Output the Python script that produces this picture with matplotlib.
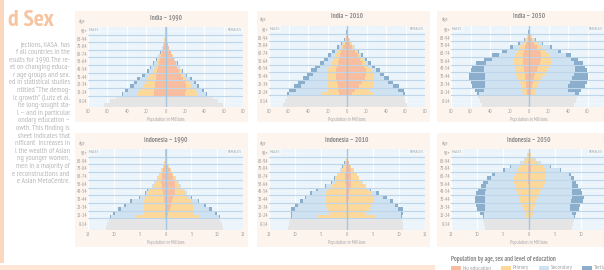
import matplotlib
matplotlib.use('Agg')
import matplotlib.pyplot as plt
from matplotlib.patches import Rectangle
import numpy as np

# ---------------- data (millions) ----------------
# 5-year age groups from 15-19 up to 100+ ; values are cumulative outer edges
# of each education layer (no-educ, +primary, +secondary, +tertiary=total)
AGE_START = [15, 20, 25, 30, 35, 40, 45, 50, 55, 60, 65, 70, 75, 80, 85, 90, 95, 100]
CHILD_START = [0, 5, 10]   # 0-14 shown as grey bars
AGE_TICKS = [7.5, 20, 30, 40, 50, 60, 70, 80, 90, 100]
AGE_LABELS = ['0-14', '15-24', '25-34', '35-44', '45-54', '55-64', '65-74', '75-84', '85-94', '95+']

# India 1990
IND90_M_CHILD = [63, 57, 51.5]
IND90_F_CHILD = [59, 54, 49]
IND90_M_NOED = [12, 12, 11, 11, 10, 9.5, 8.5, 7.5, 6.5, 5.5, 4.5, 3.3, 2.4, 1.5, 0.9, 0.4, 0.14, 0.04]
IND90_M_PRIM = [28, 26, 23, 21, 18.5, 15.5, 13, 11, 9, 7.3, 5.8, 4.2, 3, 1.85, 1.1, 0.5, 0.17, 0.045]
IND90_M_SEC = [44, 39, 33, 29.5, 26, 21.5, 17, 14.5, 11.8, 9.2, 7.3, 5.0, 3.5, 2.15, 1.22, 0.56, 0.19, 0.048]
IND90_M_TOT = [45, 42, 37, 33, 29, 24, 19, 16, 13, 10, 8, 5.5, 3.8, 2.3, 1.3, 0.6, 0.2, 0.05]
IND90_F_NOED = [20, 21, 21, 20, 18, 16, 14, 12, 10.5, 8.5, 7, 5.2, 3.6, 2.3, 1.3, 0.6, 0.2, 0.06]
IND90_F_PRIM = [33, 30, 27, 24, 21, 18, 15.5, 13, 11.3, 9.1, 7.4, 5.5, 3.8, 2.4, 1.35, 0.62, 0.21, 0.06]
IND90_F_SEC = [42, 37.5, 33, 29, 25.5, 21, 17.3, 14.6, 12.2, 9.8, 7.8, 5.7, 3.93, 2.46, 1.38, 0.64, 0.218, 0.06]
IND90_F_TOT = [43, 39.5, 35, 31, 27, 22, 18, 15, 12.5, 10, 8, 5.8, 4, 2.5, 1.4, 0.65, 0.22, 0.06]

# India 2010
IND10_M_CHILD = [66, 64, 62]
IND10_F_CHILD = [62, 59, 58]
IND10_M_NOED = [8, 9, 9, 10, 11, 11, 11, 10, 9, 8, 7, 6, 4, 2.5, 1.3, 0.6, 0.25, 0.1]
IND10_M_PRIM = [26, 20, 20, 20, 20, 20, 19, 17, 15, 13, 11, 9, 6, 3.5, 1.8, 0.8, 0.35, 0.12]
IND10_M_SEC = [60, 52, 47, 43, 39, 35, 31, 28, 24, 20, 16, 12.5, 8.5, 5, 2.5, 1.2, 0.5, 0.15]
IND10_M_TOT = [62, 59, 54, 50, 45, 41, 37, 33, 28, 24, 19, 15, 10, 6, 3, 1.5, 0.6, 0.2]
IND10_F_NOED = [5, 8, 12, 15, 18, 19, 19, 17, 15, 13, 11, 8, 5.5, 3.5, 2, 0.9, 0.35, 0.12]
IND10_F_PRIM = [27, 24, 27, 28, 28, 27, 25, 22, 19, 16, 13, 10, 7, 4.5, 2.5, 1.1, 0.45, 0.15]
IND10_F_SEC = [57, 52, 47, 42, 38, 34, 30, 26, 22, 18, 14.5, 11, 8, 5, 2.8, 1.3, 0.5, 0.18]
IND10_F_TOT = [59, 58, 53, 47, 43, 38, 33.5, 29, 24.5, 20, 16, 12, 8.5, 5.3, 3, 1.4, 0.55, 0.2]

# India 2050
IND50_M_CHILD = [48.5, 50, 52]
IND50_F_CHILD = [46, 48, 49.5]
IND50_M_NOED = [2, 2.5, 3, 3.5, 4, 4.5, 5, 5.5, 6, 6, 6, 5.5, 4.5, 3, 1.5, 0.6, 0.2, 0.05]
IND50_M_PRIM = [6, 7, 8.5, 10, 12, 13, 14, 14.5, 15.5, 15.5, 14, 12, 9, 6, 3, 1.2, 0.4, 0.1]
IND50_M_SEC = [51, 46, 45, 45, 45, 45, 46, 46, 44, 38, 31, 23, 16, 9, 4, 1.6, 0.5, 0.12]
IND50_M_TOT = [53, 55, 58, 60, 62, 62, 60, 58, 54, 46, 38, 28, 20, 11, 5, 2, 0.6, 0.15]
IND50_F_NOED = [2, 2.5, 3, 4, 5, 6, 8, 9.5, 11, 12.5, 12.5, 11, 8.5, 5.5, 3, 1.4, 0.5, 0.15]
IND50_F_PRIM = [6, 7.5, 9, 11, 13, 16, 19, 21, 23, 23, 21, 17, 13, 8, 4, 1.8, 0.6, 0.18]
IND50_F_SEC = [47, 40, 40, 42, 44, 46, 47, 47, 46, 43, 38, 30, 22, 13, 6.5, 2.8, 0.9, 0.25]
IND50_F_TOT = [51, 53, 57, 59, 60, 60, 59, 57, 55, 50, 43, 33, 24, 14, 7, 3, 1, 0.3]

# Indonesia 1990
IDN90_M_CHILD = [11.5, 11.4, 11.0]
IDN90_F_CHILD = [11.2, 11.0, 10.6]
IDN90_M_NOED = [0.1, 0.1, 0.1, 0.15, 0.2, 0.3, 0.4, 0.6, 0.7, 0.8, 0.7, 0.6, 0.45, 0.3, 0.15, 0.06, 0.025, 0.008]
IDN90_M_PRIM = [5.9, 4.3, 4.2, 4.2, 4.2, 4.0, 3.3, 3.1, 2.4, 2.1, 1.55, 1.2, 0.78, 0.5, 0.22, 0.09, 0.035, 0.01]
IDN90_M_SEC = [10.6, 9.8, 8.6, 7.6, 6.4, 5.0, 3.8, 3.4, 2.6, 2.2, 1.65, 1.3, 0.82, 0.53, 0.24, 0.1, 0.04, 0.01]
IDN90_M_TOT = [10.8, 10.2, 9.2, 8.1, 6.8, 5.2, 4.0, 3.6, 2.7, 2.3, 1.7, 1.35, 0.85, 0.55, 0.25, 0.1, 0.04, 0.01]
IDN90_F_NOED = [0.3, 0.5, 0.8, 1.0, 1.3, 1.5, 1.8, 1.9, 1.9, 1.8, 1.5, 1.2, 0.85, 0.55, 0.28, 0.12, 0.045, 0.014]
IDN90_F_PRIM = [6.4, 5.5, 5.4, 5.3, 5.0, 4.4, 3.8, 3.5, 2.8, 2.45, 1.9, 1.45, 0.97, 0.63, 0.31, 0.13, 0.05, 0.015]
IDN90_F_SEC = [10.3, 9.6, 8.5, 7.4, 6.2, 5.0, 4.1, 3.7, 2.95, 2.55, 1.97, 1.48, 0.99, 0.64, 0.32, 0.13, 0.05, 0.015]
IDN90_F_TOT = [10.5, 10.0, 9.0, 7.8, 6.4, 5.2, 4.2, 3.8, 3.0, 2.6, 2.0, 1.5, 1.0, 0.65, 0.32, 0.13, 0.05, 0.015]

# Indonesia 2010
IDN10_M_CHILD = [11.3, 11.2, 11.0]
IDN10_F_CHILD = [10.8, 10.7, 10.6]
IDN10_M_NOED = [0.05, 0.05, 0.05, 0.08, 0.1, 0.12, 0.15, 0.2, 0.25, 0.3, 0.3, 0.3, 0.25, 0.2, 0.1, 0.05, 0.02, 0.005]
IDN10_M_PRIM = [5.6, 3.3, 3.7, 4.0, 4.0, 4.0, 4.0, 3.7, 2.9, 2.4, 2.1, 1.8, 1.25, 0.8, 0.45, 0.18, 0.07, 0.02]
IDN10_M_SEC = [10.6, 10.5, 10.0, 9.5, 8.5, 7.8, 6.7, 5.6, 4.0, 2.8, 2.3, 1.9, 1.3, 0.85, 0.47, 0.19, 0.075, 0.02]
IDN10_M_TOT = [10.8, 10.8, 10.7, 10.0, 9.1, 8.1, 7.2, 5.9, 4.3, 3.0, 2.5, 2.0, 1.4, 0.9, 0.5, 0.2, 0.08, 0.02]
IDN10_F_NOED = [0.05, 0.05, 0.1, 0.15, 0.2, 0.3, 0.4, 0.5, 0.7, 0.8, 0.85, 0.8, 0.7, 0.5, 0.3, 0.14, 0.05, 0.015]
IDN10_F_PRIM = [5.3, 3.5, 4.4, 4.8, 5.0, 5.0, 4.7, 4.0, 3.4, 2.9, 2.3, 1.9, 1.3, 0.82, 0.44, 0.19, 0.07, 0.02]
IDN10_F_SEC = [10.4, 10.4, 9.8, 9.2, 8.2, 6.9, 5.6, 4.4, 3.6, 3.0, 2.35, 1.95, 1.33, 0.84, 0.45, 0.2, 0.07, 0.02]
IDN10_F_TOT = [10.6, 10.8, 10.8, 9.8, 8.8, 7.6, 6.1, 4.7, 3.7, 3.1, 2.4, 2.0, 1.35, 0.85, 0.45, 0.2, 0.07, 0.02]

# Indonesia 2050
IDN50_M_CHILD = [8.4, 8.6, 8.8]
IDN50_F_CHILD = [8.3, 8.5, 8.7]
IDN50_M_NOED = [0.02, 0.02, 0.03, 0.03, 0.04, 0.05, 0.06, 0.07, 0.08, 0.1, 0.12, 0.15, 0.15, 0.15, 0.1, 0.06, 0.03, 0.01]
IDN50_M_PRIM = [0.6, 0.8, 1.1, 1.4, 1.7, 2.0, 2.3, 2.5, 2.7, 2.8, 2.8, 2.7, 2.3, 1.9, 1.1, 0.7, 0.25, 0.06]
IDN50_M_SEC = [8.7, 8.6, 8.5, 8.5, 8.5, 8.5, 8.4, 8.3, 8.2, 7.9, 7.3, 6.6, 4.6, 3.4, 1.7, 0.95, 0.33, 0.08]
IDN50_M_TOT = [8.9, 9.4, 10.0, 10.1, 10.3, 10.4, 10.1, 9.8, 9.3, 8.8, 8.0, 7.2, 5.0, 3.6, 1.8, 1.0, 0.35, 0.08]
IDN50_F_NOED = [0.02, 0.02, 0.03, 0.04, 0.05, 0.06, 0.08, 0.1, 0.12, 0.15, 0.2, 0.25, 0.3, 0.3, 0.25, 0.15, 0.06, 0.02]
IDN50_F_PRIM = [0.5, 0.7, 0.9, 1.1, 1.4, 1.7, 2.1, 2.5, 2.9, 3.2, 3.3, 3.3, 3.0, 2.6, 1.7, 1.0, 0.35, 0.1]
IDN50_F_SEC = [8.6, 8.3, 7.9, 7.9, 8.0, 8.2, 8.2, 8.2, 8.2, 8.2, 8.0, 7.6, 5.9, 4.0, 2.3, 1.25, 0.43, 0.12]
IDN50_F_TOT = [8.8, 9.1, 9.7, 9.9, 10.4, 10.6, 10.2, 10.0, 9.4, 9.0, 8.7, 8.1, 6.2, 4.2, 2.4, 1.3, 0.45, 0.12]

LEGEND_LABELS = ['No education', 'Primary', 'Secondary', 'Tertiary']

SIDE_TEXT = [
    "jections, IIASA  has",
    "f all countries in the",
    "esults for 1990.The re-",
    "et on changing educa-",
    "r age groups and sex.",
    "ed in statistical studies",
    "ntitled \u201cThe demog-",
    "ic growth\u201d (Lutz et al.",
    "he long-sought sta-",
    "l \u2013 and in particular",
    "ondary education \u2013",
    "owth. This finding is",
    " sheet indicates that",
    "nificant  increases in",
    "l the wealth of Asian",
    "ng younger women,",
    "men in a majority of",
    "e reconstructions and",
    "e Asian MetaCentre.",
]

# ---------------- style ----------------
C_NOED = '#f7bd9e'
C_PRIM = '#fcd89a'
C_SEC = '#cfe2f2'
C_TER = '#8aaecb'
C_CHILD = '#e5e5e5'
C_AXBG = '#eaf4fa'
C_SEP = '#bfd6ea'
C_CENTER = '#a6c6e0'
C_CARD = '#fdf4ee'
C_TXT = '#9a9a9a'
COND = ['PT Sans Narrow', 'Barlow Semi Condensed', 'DejaVu Sans']

W, H = 604, 270
fig = plt.figure(figsize=(W / 100, H / 100), dpi=100)
fig.patch.set_facecolor('white')
bg = fig.add_axes([0, 0, 1, 1], zorder=0)
bg.set_xlim(0, W)
bg.set_ylim(H, 0)
bg.axis('off')

# left column decorations
bg.add_patch(Rectangle((0, 0), 4, 263, fc='#fbd7be', ec='none'))
bg.add_patch(Rectangle((0, 264.5), 435, 6, fc='#fde6d6', ec='none'))
bg.text(8, 21, 'd Sex', fontsize=17, fontweight='bold', color='#f7c4a0',
        family=COND, ha='left', va='center')
for i, line in enumerate(SIDE_TEXT):
    bg.text(70, 45 + i * 7.6, line, fontsize=5.6, color='#b8b8b8', family=COND,
            ha='right', va='center')

# cards
for (x0, x1) in [(75, 248), (257, 430), (437, 610)]:
    bg.add_patch(Rectangle((x0, 11), x1 - x0, 111, fc=C_CARD, ec='none'))
    bg.add_patch(Rectangle((x0, 133), x1 - x0, 114, fc=C_CARD, ec='none'))

PANELS = [
    ('India \u2013 1990', (88, 27, 243, 107), 80, 20,
     IND90_M_CHILD, IND90_F_CHILD, (IND90_M_NOED, IND90_M_PRIM, IND90_M_SEC, IND90_M_TOT),
     (IND90_F_NOED, IND90_F_PRIM, IND90_F_SEC, IND90_F_TOT)),
    ('India \u2013 2010', (269, 26, 425, 107), 80, 20,
     IND10_M_CHILD, IND10_F_CHILD, (IND10_M_NOED, IND10_M_PRIM, IND10_M_SEC, IND10_M_TOT),
     (IND10_F_NOED, IND10_F_PRIM, IND10_F_SEC, IND10_F_TOT)),
    ('India \u2013 2050', (451, 26, 607, 107), 80, 20,
     IND50_M_CHILD, IND50_F_CHILD, (IND50_M_NOED, IND50_M_PRIM, IND50_M_SEC, IND50_M_TOT),
     (IND50_F_NOED, IND50_F_PRIM, IND50_F_SEC, IND50_F_TOT)),
    ('Indonesia \u2013 1990', (88, 149, 243, 230), 15, 5,
     IDN90_M_CHILD, IDN90_F_CHILD, (IDN90_M_NOED, IDN90_M_PRIM, IDN90_M_SEC, IDN90_M_TOT),
     (IDN90_F_NOED, IDN90_F_PRIM, IDN90_F_SEC, IDN90_F_TOT)),
    ('Indonesia \u2013 2010', (269, 149, 425, 230), 15, 5,
     IDN10_M_CHILD, IDN10_F_CHILD, (IDN10_M_NOED, IDN10_M_PRIM, IDN10_M_SEC, IDN10_M_TOT),
     (IDN10_F_NOED, IDN10_F_PRIM, IDN10_F_SEC, IDN10_F_TOT)),
    ('Indonesia \u2013 2050', (451, 149, 607, 230), 15, 5,
     IDN50_M_CHILD, IDN50_F_CHILD, (IDN50_M_NOED, IDN50_M_PRIM, IDN50_M_SEC, IDN50_M_TOT),
     (IDN50_F_NOED, IDN50_F_PRIM, IDN50_F_SEC, IDN50_F_TOT)),
]

LAYER_COLORS = [C_NOED, C_PRIM, C_SEC, C_TER]

for title, (x0, y0, x1, y1), xmax, step, mchild, fchild, mlayers, flayers in PANELS:
    ax = fig.add_axes([x0 / W, 1 - y1 / H, (x1 - x0) / W, (y1 - y0) / H], zorder=2)
    ax.set_facecolor(C_AXBG)
    ax.set_xlim(-xmax, xmax)
    ax.set_ylim(0, 105)
    ticks = np.arange(-xmax, xmax + step / 2, step)
    for t in ticks:
        ax.axvline(t, color='white', lw=0.9, zorder=0.5)
    for b in range(5, 105, 5):
        ax.axhline(b, color='#f6fafd', lw=0.4, zorder=0.6)
    # children (grey)
    ax.barh(CHILD_START, [-v for v in mchild], height=5, align='edge', color=C_CHILD, lw=0, zorder=1)
    ax.barh(CHILD_START, fchild, height=5, align='edge', color=C_CHILD, lw=0, zorder=1)
    # education layers, outermost first
    for k in range(3, -1, -1):
        ax.barh(AGE_START, [-v for v in mlayers[k]], height=5, align='edge',
                color=LAYER_COLORS[k], lw=0, zorder=1 + (3 - k) * 0.1)
        ax.barh(AGE_START, flayers[k], height=5, align='edge',
                color=LAYER_COLORS[k], lw=0, zorder=1 + (3 - k) * 0.1)
    for b in [15, 25, 35, 45, 55, 65, 75, 85, 95]:
        ax.axhline(b, color=C_SEP, lw=0.8, zorder=3)
    ax.axvline(0, color=C_CENTER, lw=1.0, zorder=4)
    for s in ax.spines.values():
        s.set_visible(False)
    clipped = x1 > W
    ax.set_xticks(ticks)
    labels = [f'{abs(int(t))}' for t in ticks]
    if clipped:
        labels[-1] = ''   # falls outside the visible page
    ax.set_xticklabels(labels, family=COND)
    ax.set_yticks(AGE_TICKS)
    ax.set_yticklabels(AGE_LABELS, family=COND)
    ax.tick_params(axis='both', length=0, labelsize=3.6, colors=C_TXT)
    ax.tick_params(axis='x', pad=1.5)
    ax.tick_params(axis='y', pad=0.8)
    ax.set_xlabel('Population in Millions', fontsize=3.6, color='#a8a8a8', family=COND, labelpad=2.2)
    ax.text(0.008, 0.99, 'MALES', transform=ax.transAxes, ha='left', va='top', fontsize=3.2,
            color='#a5a5a5', family=COND, zorder=5,
            bbox=dict(fc='#f3f8fb', ec='none', pad=0.6))
    fx = 0.975 if clipped else 0.992
    ax.text(fx, 0.99, 'FEMALES', transform=ax.transAxes, ha='right', va='top',
            fontsize=3.2, color='#a5a5a5', family=COND, zorder=5,
            bbox=dict(fc='#f3f8fb', ec='none', pad=0.6))
    cx = (x0 + x1) / 2
    bg.text(cx, y0 - 9, title, fontsize=5.0, fontweight='bold', color='#8e8e8e', family=COND,
            ha='center', va='center')
    bg.text(x0 - 6, y0 - 6, 'Age', fontsize=3.6, color=C_TXT, family=COND, ha='center', va='center')

# legend
bg.text(451, 259.5, 'Population by age, sex and level of education', fontsize=4.8, fontweight='bold',
        color='#8e8e8e', family=COND, ha='left', va='center')
leg_x = [451, 501, 539, 582]
for xx, lab, col in zip(leg_x, LEGEND_LABELS, LAYER_COLORS):
    bg.add_patch(Rectangle((xx, 265.5), 10, 6, fc=col, ec='none'))
    bg.text(xx + 12, 268.0, lab, fontsize=4.4, color='#a0a0a0', family=COND, ha='left', va='center')

fig.savefig('out.png', dpi=100, facecolor='white')
